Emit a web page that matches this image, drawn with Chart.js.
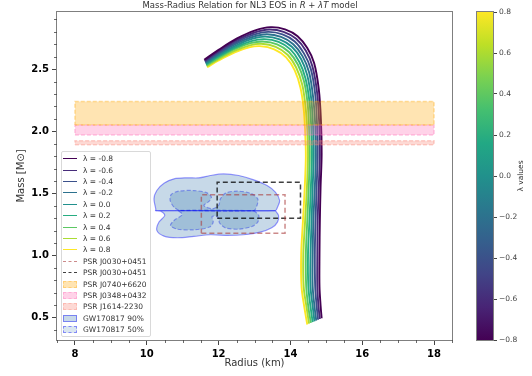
<!DOCTYPE html>
<html lang="en">

<head>
    <meta charset="UTF-8">
    <title>Mass-Radius NL3</title>
    <script src="https://cdn.jsdelivr.net/npm/chart.js"></script>
    <style>
        body { margin: 0; background: #fff; }
        .principal { position: relative; width: 532px; height: 376px; font-family: 'DejaVu Sans', sans-serif; overflow: hidden; }
        #grafico { position: absolute; left: 0; top: 0; }
        #barraCor { position: absolute; left: 470px; top: 0; }
        #titulo { position: absolute; left: 0; top: 0; width: 500px; text-align: center; font-size: 8.5px; line-height: 10px; color: #333; }
        #rotuloBarra { position: absolute; left: 491px; top: 170px; width: 60px; height: 12px; line-height: 12px; text-align: center; font-size: 7.5px; color: #333; transform: rotate(-90deg); }
        #legenda { position: absolute; left: 61px; top: 151px; width: 90px; height: 186px; box-sizing: border-box; border: 1px solid #d9d9d9; border-radius: 2px; background: rgba(255, 255, 255, 0.8); }
        .item { position: absolute; left: 0; width: 88px; height: 11px; line-height: 11px; font-size: 7.5px; color: #333; white-space: nowrap; }
        .item span { position: absolute; left: 21px; top: 0; }
        .item i { position: absolute; left: 1px; box-sizing: border-box; }
    </style>
</head>

<body>
    <div class="principal">
        <canvas id="grafico" width="532" height="376"></canvas>
        <canvas id="barraCor" width="62" height="376"></canvas>
        <div id="titulo">Mass-Radius Relation for NL3 EOS in <i>R</i> + <i>λT</i> model</div>
        <div id="rotuloBarra">λ values</div>
        <div id="legenda"></div>
    </div>
</body>

</html>
<script>
    // coupling values and their colours (viridis)
    var lambdaValues = [-0.8, -0.6, -0.4, -0.2, 0.0, 0.2, 0.4, 0.6, 0.8];
    var lambdaColors = ['#440154', '#472c7a', '#3b518b', '#2c718e', '#21908d', '#27ad81', '#5cc863', '#aadc32', '#fde725'];
    var viridisStops = ['#440154', '#482475', '#414487', '#355f8d', '#2a788e', '#21918c', '#22a884', '#44bf70', '#7ad151', '#bddf26', '#fde725'];

    var radiusTicks = [8, 10, 12, 14, 16, 18];
    var massTicks = [0.5, 1.0, 1.5, 2.0, 2.5];
    var lambdaTicks = [-0.8, -0.6, -0.4, -0.2, 0.0, 0.2, 0.4, 0.6, 0.8];

    // [R (km), M (Msun)] along each sequence, from the most compact star down to low mass
    var mrM08 = [[11.60, 2.575], [12.00, 2.655], [12.50, 2.745], [13.00, 2.810], [13.45, 2.838], [13.85, 2.820], [14.20, 2.765], [14.47, 2.670], [14.66, 2.550], [14.79, 2.340], [14.85, 2.090], [14.87, 1.820], [14.84, 1.550], [14.82, 1.280], [14.81, 1.010], [14.81, 0.750], [14.84, 0.600], [14.87, 0.495]];
    var mrM06 = [[11.61, 2.568], [12.00, 2.644], [12.49, 2.731], [12.98, 2.793], [13.41, 2.819], [13.81, 2.800], [14.16, 2.744], [14.43, 2.648], [14.61, 2.525], [14.74, 2.320], [14.80, 2.079], [14.82, 1.818], [14.79, 1.550], [14.76, 1.280], [14.75, 1.010], [14.75, 0.750], [14.78, 0.598], [14.82, 0.489]];
    var mrM04 = [[11.62, 2.560], [12.00, 2.634], [12.49, 2.718], [12.96, 2.776], [13.38, 2.800], [13.78, 2.780], [14.12, 2.723], [14.38, 2.625], [14.57, 2.500], [14.69, 2.300], [14.74, 2.068], [14.76, 1.815], [14.73, 1.550], [14.70, 1.280], [14.68, 1.010], [14.69, 0.750], [14.73, 0.595], [14.77, 0.483]];
    var mrM02 = [[11.63, 2.553], [12.00, 2.623], [12.48, 2.704], [12.94, 2.759], [13.34, 2.781], [13.74, 2.760], [14.08, 2.701], [14.34, 2.603], [14.52, 2.475], [14.63, 2.280], [14.69, 2.056], [14.71, 1.813], [14.68, 1.550], [14.64, 1.280], [14.62, 1.010], [14.62, 0.750], [14.67, 0.593], [14.72, 0.476]];
    var mrP00 = [[11.64, 2.545], [12.00, 2.613], [12.48, 2.690], [12.93, 2.743], [13.30, 2.762], [13.70, 2.740], [14.04, 2.680], [14.30, 2.580], [14.47, 2.450], [14.58, 2.260], [14.63, 2.045], [14.65, 1.810], [14.62, 1.550], [14.59, 1.280], [14.56, 1.010], [14.56, 0.750], [14.62, 0.590], [14.67, 0.470]];
    var mrP02 = [[11.65, 2.538], [12.00, 2.602], [12.47, 2.676], [12.91, 2.726], [13.27, 2.742], [13.67, 2.720], [14.00, 2.659], [14.25, 2.558], [14.42, 2.425], [14.53, 2.240], [14.58, 2.034], [14.60, 1.808], [14.57, 1.550], [14.53, 1.280], [14.49, 1.010], [14.50, 0.750], [14.56, 0.588], [14.62, 0.464]];
    var mrP04 = [[11.66, 2.530], [12.00, 2.591], [12.46, 2.663], [12.89, 2.709], [13.23, 2.723], [13.63, 2.700], [13.96, 2.638], [14.21, 2.535], [14.38, 2.400], [14.48, 2.220], [14.52, 2.023], [14.54, 1.805], [14.51, 1.550], [14.47, 1.280], [14.43, 1.010], [14.44, 0.750], [14.50, 0.585], [14.57, 0.458]];
    var mrP06 = [[11.67, 2.523], [12.00, 2.581], [12.46, 2.649], [12.87, 2.692], [13.19, 2.704], [13.59, 2.680], [13.92, 2.616], [14.16, 2.513], [14.33, 2.375], [14.42, 2.200], [14.47, 2.011], [14.49, 1.803], [14.46, 1.550], [14.41, 1.280], [14.36, 1.010], [14.37, 0.750], [14.45, 0.583], [14.52, 0.451]];
    var mrP08 = [[11.68, 2.515], [12.00, 2.570], [12.45, 2.635], [12.85, 2.675], [13.15, 2.685], [13.55, 2.660], [13.88, 2.595], [14.12, 2.490], [14.28, 2.350], [14.37, 2.180], [14.41, 2.000], [14.43, 1.800], [14.40, 1.550], [14.35, 1.280], [14.30, 1.010], [14.31, 0.750], [14.39, 0.580], [14.47, 0.445]];
    var mrCurves = [mrM08, mrM06, mrM04, mrM02, mrP00, mrP02, mrP04, mrP06, mrP08];

    // pulsar mass bands (over the whole radius span)
    var bandRadius = [8, 18];
    var j0740Mass = [2.05, 2.24];
    var j0348Mass = [1.97, 2.05];
    var j1614Mass = [1.892, 1.924];

    // NICER boxes for J0030+0451
    var rileyRadius = [11.52, 13.85];
    var rileyMass = [1.18, 1.49];
    var millerRadius = [11.96, 14.28];
    var millerMass = [1.30, 1.59];

    // GW170817 credible regions, heavier (upper) and lighter (lower) star
    var gw90Upper = [[10.25, 1.362], [10.25, 1.376], [10.20, 1.456], [10.28, 1.523], [10.48, 1.582], [10.76, 1.617], [11.13, 1.625], [11.45, 1.625], [11.77, 1.644], [12.14, 1.657], [12.56, 1.644], [12.98, 1.609], [13.35, 1.563], [13.58, 1.510], [13.70, 1.443], [13.64, 1.389], [13.58, 1.362], [10.25, 1.362]];
    var gw90Lower = [[13.58, 1.362], [13.67, 1.322], [13.64, 1.269], [13.48, 1.223], [13.16, 1.188], [12.70, 1.167], [12.24, 1.162], [11.77, 1.167], [11.31, 1.154], [10.85, 1.143], [10.48, 1.156], [10.28, 1.202], [10.34, 1.269], [10.50, 1.322], [10.39, 1.357], [10.25, 1.362], [13.58, 1.362]];
    var gw50Upper = [[10.89, 1.362], [10.76, 1.389], [10.65, 1.443], [10.68, 1.491], [10.89, 1.518], [11.31, 1.523], [11.68, 1.504], [11.80, 1.470], [11.73, 1.435], [11.59, 1.403], [11.82, 1.376], [12.00, 1.403], [12.05, 1.456], [12.19, 1.502], [12.51, 1.518], [12.88, 1.502], [13.09, 1.456], [13.07, 1.403], [12.98, 1.362], [10.89, 1.362]];
    var gw50Lower = [[12.98, 1.362], [13.12, 1.322], [13.09, 1.269], [12.93, 1.234], [12.56, 1.212], [12.19, 1.223], [12.03, 1.261], [11.98, 1.309], [11.82, 1.314], [11.85, 1.269], [11.75, 1.229], [11.31, 1.207], [10.85, 1.212], [10.66, 1.242], [10.76, 1.282], [10.99, 1.330], [10.89, 1.362], [12.98, 1.362]];

    var corRiley = 'rgba(170, 60, 60, 0.6)';
    var corMiller = 'rgba(0, 0, 0, 0.75)';
    var corJ0740 = ['rgba(255, 165, 0, 0.3)', 'rgba(255, 165, 0, 0.35)'];
    var corJ0348 = ['rgba(255, 105, 180, 0.3)', 'rgba(255, 105, 180, 0.35)'];
    var corJ1614 = ['rgba(250, 128, 114, 0.3)', 'rgba(250, 128, 114, 0.35)'];
    var corGW = ['rgba(70, 130, 180, 0.3)', 'rgba(0, 0, 255, 0.4)'];

    Chart.defaults.font.family = "'DejaVu Sans', sans-serif";

    function retangulo(r, m) {
        return [[r[0], m[0]], [r[1], m[0]], [r[1], m[1]], [r[0], m[1]], [r[0], m[0]]];
    }

    function caixa(r, m, cor) {
        return { data: retangulo(r, m), borderColor: cor, borderWidth: 1.5, borderDash: [5, 3], fill: false, tension: 0, order: 2 };
    }

    function faixa(m, cores) {
        return { data: retangulo(bandRadius, m), borderColor: cores[1], backgroundColor: cores[0], borderWidth: 1.5, borderDash: [4, 2], fill: 'shape', tension: 0, order: 1 };
    }

    function contorno(pontos, tracejado) {
        return {
            data: pontos, borderColor: corGW[1], backgroundColor: corGW[0], borderWidth: 1.2,
            borderDash: tracejado ? [4, 2] : [], fill: 'shape', tension: 0.3, order: 4
        };
    }

    var datasets = [];
    mrCurves.forEach(function (curva, i) {
        datasets.push({ data: curva, borderColor: lambdaColors[i], borderWidth: 1.9, fill: false, tension: 0.35, order: 5 });
    });
    datasets.push(caixa(rileyRadius, rileyMass, corRiley));
    datasets.push(caixa(millerRadius, millerMass, corMiller));
    datasets.push(faixa(j0740Mass, corJ0740));
    datasets.push(faixa(j0348Mass, corJ0348));
    datasets.push(faixa(j1614Mass, corJ1614));
    datasets.push(contorno(gw90Upper, false));
    datasets.push(contorno(gw90Lower, false));
    datasets.push(contorno(gw50Upper, true));
    datasets.push(contorno(gw50Lower, true));

    // axes frame on all four sides
    var moldura = {
        id: 'moldura',
        afterDraw: function (chart) {
            var a = chart.chartArea, ctx = chart.ctx;
            ctx.save();
            ctx.strokeStyle = '#7f7f7f';
            ctx.lineWidth = 1;
            ctx.strokeRect(Math.round(a.left) - 0.5, Math.round(a.top) - 0.5, Math.round(a.right - a.left) + 1, Math.round(a.bottom - a.top) + 1);
            ctx.restore();
        }
    };

    // minor ticks: every 0.5 km and every 0.1 Msun
    var ticksMenores = {
        id: 'ticksMenores',
        afterDraw: function (chart) {
            var a = chart.chartArea, ctx = chart.ctx, sx = chart.scales.x, sy = chart.scales.y;
            ctx.save();
            ctx.strokeStyle = '#444';
            ctx.lineWidth = 0.8;
            ctx.beginPath();
            for (var i = 15; i <= 37; i++) {
                if (i % 4 === 0) continue;
                var px = Math.round(sx.getPixelForValue(i / 2)) + 0.5;
                ctx.moveTo(px, a.bottom); ctx.lineTo(px, a.bottom + 3);
            }
            for (var j = 4; j <= 29; j++) {
                if (j % 5 === 0) continue;
                var py = Math.round(sy.getPixelForValue(j / 10)) + 0.5;
                ctx.moveTo(a.left, py); ctx.lineTo(a.left - 3, py);
            }
            ctx.stroke();
            ctx.restore();
        }
    };

    var grafico = new Chart(document.getElementById('grafico'), {
        type: 'line',
        data: { datasets: datasets },
        options: {
            responsive: false,
            animation: false,
            devicePixelRatio: 1,
            layout: { padding: { top: 12, right: 80, left: 0, bottom: 0 } },
            elements: { point: { radius: 0 } },
            plugins: { legend: { display: false }, title: { display: false }, tooltip: { enabled: false } },
            scales: {
                x: {
                    type: 'linear', min: 7.5, max: 18.5,
                    afterFit: function (s) { s.height = 36; },
                    afterBuildTicks: function (s) { s.ticks = radiusTicks.map(function (v) { return { value: v }; }); },
                    ticks: { color: '#000', font: { size: 10, weight: 'bold' }, padding: 3, maxRotation: 0, callback: function (v) { return v; } },
                    grid: { drawOnChartArea: false, tickLength: 5, tickColor: '#444' },
                    border: { display: false },
                    title: { display: true, text: 'Radius (km)', color: '#333', font: { size: 10 }, padding: { top: 0, bottom: 7 } }
                },
                y: {
                    type: 'linear', min: 0.32, max: 2.96,
                    afterFit: function (s) { s.width = 57; },
                    afterBuildTicks: function (s) { s.ticks = massTicks.map(function (v) { return { value: v }; }); },
                    ticks: { color: '#000', font: { size: 10, weight: 'bold' }, padding: 3, callback: function (v) { return v.toFixed(1); } },
                    grid: { drawOnChartArea: false, tickLength: 5, tickColor: '#444' },
                    border: { display: false },
                    title: { display: true, text: 'Mass [M\u2299]', color: '#333', font: { size: 10 }, padding: { top: 15, bottom: 0 } }
                }
            }
        },
        plugins: [moldura, ticksMenores]
    });

    // colour bar for λ
    var barraCor = new Chart(document.getElementById('barraCor'), {
        type: 'bar',
        data: {
            labels: [''],
            datasets: [{
                data: [[lambdaTicks[0], lambdaTicks[lambdaTicks.length - 1]]],
                borderWidth: 0,
                barPercentage: 1,
                categoryPercentage: 1,
                backgroundColor: function (c) {
                    var a = c.chart.chartArea;
                    if (!a) return viridisStops[0];
                    var g = c.chart.ctx.createLinearGradient(0, a.bottom, 0, a.top);
                    viridisStops.forEach(function (cor, i) { g.addColorStop(i / (viridisStops.length - 1), cor); });
                    return g;
                }
            }]
        },
        options: {
            responsive: false,
            animation: false,
            devicePixelRatio: 1,
            layout: { padding: { top: 12, bottom: 36, left: 7, right: 0 } },
            plugins: { legend: { display: false }, tooltip: { enabled: false } },
            scales: {
                x: { display: false },
                y: {
                    position: 'right', min: -0.8, max: 0.8,
                    afterFit: function (s) { s.width = 39; },
                    afterBuildTicks: function (s) { s.ticks = lambdaTicks.map(function (v) { return { value: v }; }); },
                    ticks: { color: '#444', font: { size: 7.5 }, padding: 2, callback: function (v) { return v.toFixed(1).replace('-', '\u2212'); } },
                    grid: { drawOnChartArea: false, tickLength: 4, tickColor: '#444' },
                    border: { display: false }
                }
            }
        },
        plugins: [moldura]
    });

    // legend box
    var itensLegenda = [];
    lambdaValues.forEach(function (v, i) {
        itensLegenda.push({ texto: 'λ  = ' + v.toFixed(1), tipo: 'linha', cor: lambdaColors[i] });
    });
    itensLegenda.push({ texto: 'PSR J0030+0451', tipo: 'traco', cor: corRiley });
    itensLegenda.push({ texto: 'PSR J0030+0451', tipo: 'traco', cor: corMiller });
    itensLegenda.push({ texto: 'PSR J0740+6620', tipo: 'area', cor: corJ0740[0], borda: '1.3px dashed ' + corJ0740[1] });
    itensLegenda.push({ texto: 'PSR J0348+0432', tipo: 'area', cor: corJ0348[0], borda: '1.3px dashed ' + corJ0348[1] });
    itensLegenda.push({ texto: 'PSR J1614-2230', tipo: 'area', cor: corJ1614[0], borda: '1.3px dashed ' + corJ1614[1] });
    itensLegenda.push({ texto: 'GW170817 90%', tipo: 'area', cor: corGW[0], borda: '1.2px solid ' + corGW[1] });
    itensLegenda.push({ texto: 'GW170817 50%', tipo: 'area', cor: 'rgba(70, 130, 180, 0.2)', borda: '1.2px dashed ' + corGW[1] });

    var legenda = document.getElementById('legenda');
    itensLegenda.forEach(function (item, i) {
        var linha = document.createElement('div');
        linha.className = 'item';
        linha.style.top = (1.2 + i * 11.4) + 'px';
        var sw = document.createElement('i');
        if (item.tipo === 'area') {
            sw.style.cssText = 'top:2px;width:14px;height:7px;background:' + item.cor + ';border:' + item.borda + ';';
        } else {
            sw.style.cssText = 'top:5px;width:14px;height:0;border-top:1.5px ' + (item.tipo === 'linha' ? 'solid ' : 'dashed ') + item.cor + ';';
        }
        var txt = document.createElement('span');
        txt.textContent = item.texto;
        linha.appendChild(sw);
        linha.appendChild(txt);
        legenda.appendChild(linha);
    });
</script>
